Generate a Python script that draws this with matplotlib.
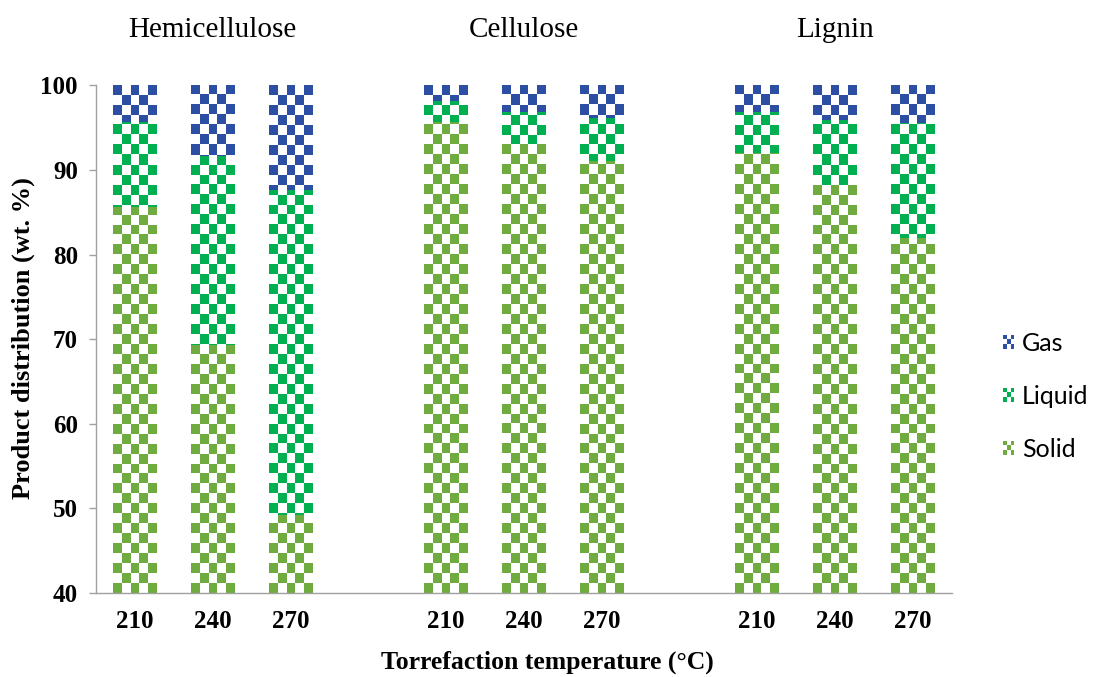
import numpy as np
import matplotlib.pyplot as plt
from matplotlib.colors import to_rgb
from matplotlib.patches import Rectangle
from matplotlib.legend_handler import HandlerBase

# Product distribution (wt. %) after torrefaction
groups = ["Hemicellulose", "Cellulose", "Lignin"]
temps = ["210", "240", "270"]
solid = [85.6, 69.3, 49.2, 95.7, 93.1, 91.0, 92.0, 88.2, 81.9]
liquid = [10.1, 22.3, 38.4, 2.5, 3.7, 5.1, 4.8, 7.7, 13.6]
gas = [4.3, 8.4, 12.4, 1.8, 3.2, 3.9, 3.2, 4.1, 4.5]

colors = {"Solid": "#6FAB3F", "Liquid": "#00B050", "Gas": "#2C4FA3"}
serif = "Liberation Serif"

# three bars per group, one empty slot between groups
xpos = [g * 4 + i for g in range(len(groups)) for i in range(len(temps))]
width = 0.56
ymin, ymax = 40, 100


def checker(color, nrows=51, ncols=5):
    rgb = np.array(to_rgb(color))
    img = np.ones((nrows, ncols, 3))
    r, c = np.indices((nrows, ncols))
    img[(r + c) % 2 == 0] = rgb
    return img


fig = plt.figure(figsize=(10.94, 6.77), dpi=100)
ax = fig.add_axes([0.0878, 0.124, 0.782, 0.750])

bottom = np.zeros(len(xpos))
for name, vals in [("Solid", solid), ("Liquid", liquid), ("Gas", gas)]:
    bars = ax.bar(xpos, vals, bottom=bottom, width=width,
                  facecolor="none", edgecolor="none", label=name)
    for patch in bars.patches:
        x0 = patch.get_x()
        im = ax.imshow(checker(colors[name]), extent=(x0, x0 + width, ymin, ymax),
                       interpolation="nearest", aspect="auto", zorder=2)
        im.set_clip_path(patch)
    bottom += np.array(vals)

ax.set_xlim(-0.5, 10.5)
ax.set_ylim(ymin, ymax)
ax.set_yticks(range(40, 101, 10))
ax.set_xticks(xpos)
ax.set_xticklabels(temps * len(groups))

for lab in ax.get_xticklabels() + ax.get_yticklabels():
    lab.set_fontfamily(serif)
    lab.set_fontweight("bold")
    lab.set_fontsize(18)

ax.tick_params(axis="x", length=0, pad=12)
ax.tick_params(axis="y", length=5, width=1, color="#A0A0A0", pad=8)
for side in ["top", "right"]:
    ax.spines[side].set_visible(False)
for side in ["left", "bottom"]:
    ax.spines[side].set_color("#A0A0A0")
    ax.spines[side].set_linewidth(1)

# group names above the bars
for g, name in enumerate(groups):
    ax.text(g * 4 + 1, 1.108, name, transform=ax.get_xaxis_transform(),
            ha="center", va="center", fontsize=21, family=serif)

fig.text(0.021, 0.50, "Product distribution (wt. %)", rotation=90,
         ha="center", va="center", fontsize=19, family=serif, fontweight="bold")
fig.text(0.5, 0.022, "Torrefaction temperature (\u00b0C)",
         ha="center", va="center", fontsize=18.5, family=serif, fontweight="bold")


class CheckerHandler(HandlerBase):
    def create_artists(self, legend, orig_handle, xdescent, ydescent,
                       width, height, fontsize, trans):
        n = 3
        cw, ch = width / n, height / n
        arts = []
        for i in range(n):
            for j in range(n):
                fc = orig_handle.get_facecolor() if (i + j) % 2 == 0 else "white"
                arts.append(Rectangle((-xdescent + i * cw, -ydescent + j * ch),
                                      cw, ch, facecolor=fc, edgecolor="none",
                                      transform=trans))
        return arts


handles = [Rectangle((0, 0), 1, 1, facecolor=colors[k]) for k in ["Gas", "Liquid", "Solid"]]
leg = fig.legend(handles, ["Gas", "Liquid", "Solid"],
                 handler_map={h: CheckerHandler() for h in handles},
                 loc="center left", bbox_to_anchor=(0.917, 0.415), frameon=False,
                 prop={"family": "Lato", "size": 18}, handlelength=0.45,
                 handleheight=0.5, handletextpad=0.3, labelspacing=1.2,
                 borderpad=0, borderaxespad=0)

fig.savefig("out.png", dpi=100)
